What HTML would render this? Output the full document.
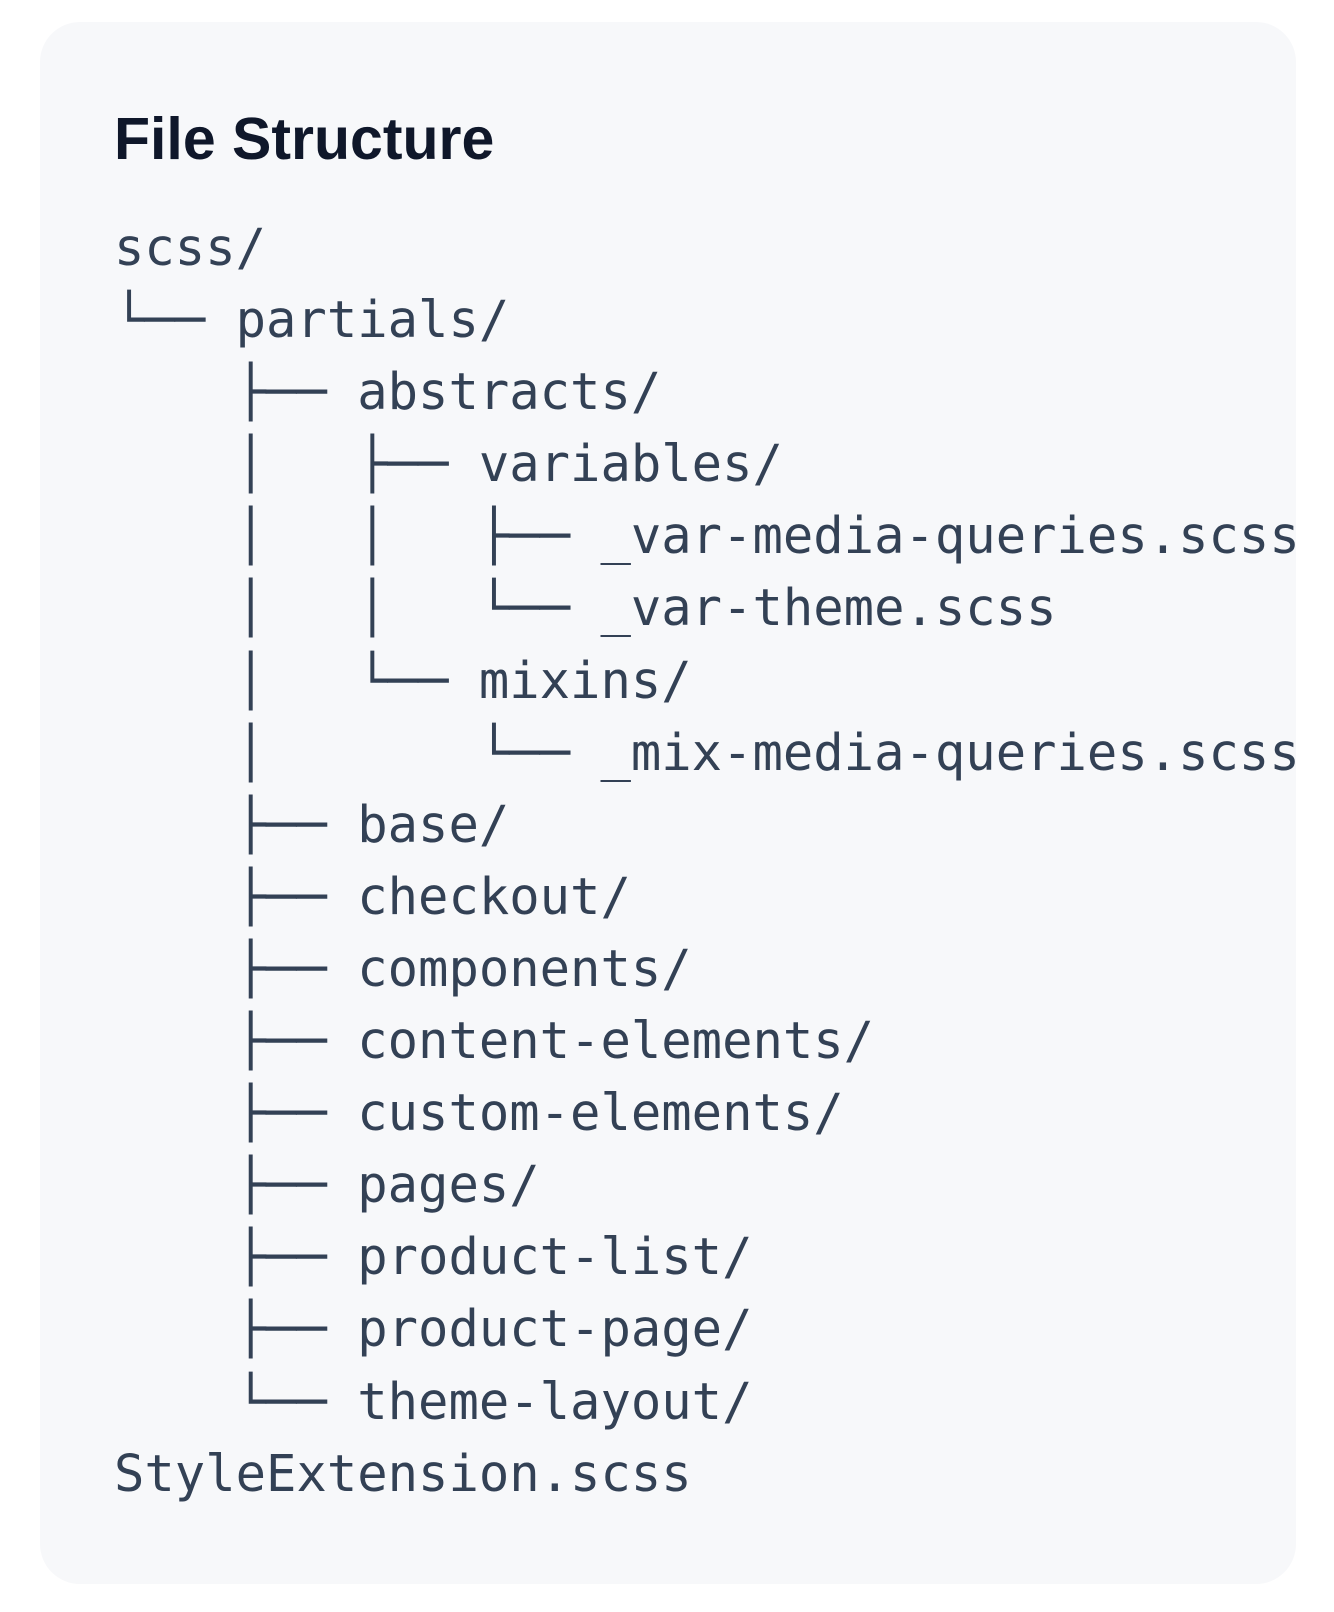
<!DOCTYPE html>
<html><head><meta charset="utf-8"><style>
html,body{margin:0;padding:0;background:#fff;width:1334px;height:1612px;overflow:hidden}
.card{position:absolute;left:40px;top:22px;width:1256px;height:1562px;background:#f7f8fa;border-radius:40px}
.t{position:absolute;left:114px;top:104px;font-family:"Liberation Sans",sans-serif;font-weight:bold;font-size:59px;line-height:70px;color:#0f172a;white-space:nowrap}
pre{position:absolute;left:114px;top:212px;margin:0;font-family:"DejaVu Sans Mono","Liberation Mono",monospace;font-size:50.5px;line-height:72.1px;color:#334155;white-space:pre}
</style></head><body>
<div class="card"></div>
<div class="t">File Structure</div>
<pre>scss/
└── partials/
    ├── abstracts/
    │   ├── variables/
    │   │   ├── _var-media-queries.scss
    │   │   └── _var-theme.scss
    │   └── mixins/
    │       └── _mix-media-queries.scss
    ├── base/
    ├── checkout/
    ├── components/
    ├── content-elements/
    ├── custom-elements/
    ├── pages/
    ├── product-list/
    ├── product-page/
    └── theme-layout/
StyleExtension.scss</pre>
</body></html>
